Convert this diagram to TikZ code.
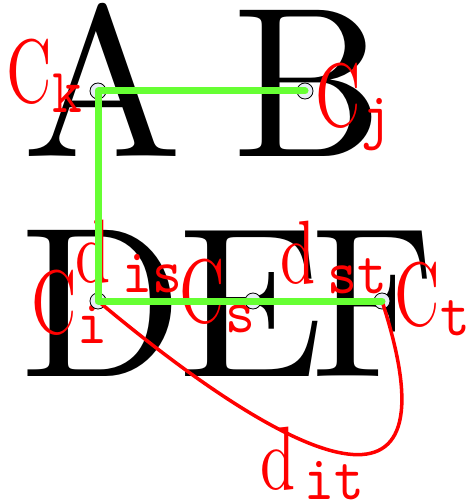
\documentclass[tikz,border=0pt]{standalone}
\usepackage{xcolor}
\usepackage{graphicx}
\usepackage{tikz}
\usetikzlibrary{
  arrows.meta,
  positioning
}
\definecolor{pathgreen}{RGB}{102,255,51}
\definecolor{dotfill}{RGB}{232,237,246}
\newcommand{\hugeletter}[2][21.4]{\scalebox{#1}[21.4]{\fontsize{10}{12}\selectfont #2}}
\newcommand{\subtt}[1]{\raisebox{-1.1pt}{\scalebox{0.63}[0.7]{\ttfamily #1}}}
\newcommand{\tagtext}[2]{\scalebox{9}{\fontsize{10}{12}\selectfont\scalebox{0.7}[1]{#1}\subtt{#2}}}
\tikzset{
  bigletter/.style={
    inner sep=0pt,
    anchor=base west
  },
  site/.style={
    circle,
    draw=black,
    fill=dotfill,
    line width=0.8pt,
    minimum size=16pt,
    inner sep=0pt
  },
  tag/.style={
    inner sep=0pt,
    anchor=north west,
    text=red
  },
  route/.style={
    line width=7pt,
    draw=pathgreen,
    line cap=round,
    line join=round
  },
  hop/.style={
    line width=3.5pt,
    draw=red
  }
}

\begin{document}
\begin{tikzpicture}[x=1pt,y=-1pt]
\useasboundingbox (0,0) rectangle (469,500);

% big letters
\node[bigletter] (la) at (22,156) {\hugeletter{A}};
\node[bigletter] (lb) at (232,156) {\hugeletter{B}};
\node[bigletter] (ld) at (20,376) {\hugeletter{D}};
\node[bigletter] (le) at (178,376) {\hugeletter{E}};
\node[bigletter] (lf) at (311,376) {\hugeletter[19]{F}};

% labels
\node[tag] (tk) at (6.5,39) {\tagtext{C}{k}};
\node[tag] (tj) at (315.5,63) {\tagtext{C}{j}};
\node[tag] (ti) at (31.5,270) {\tagtext{C}{i}};
\node[tag] (ts) at (179.5,259) {\tagtext{C}{s}};
\node[tag] (tt) at (394.5,262) {\tagtext{C}{t}};
\node[tag] (tis) at (75,220) {\tagtext{d\kern2pt}{is}};
\node[tag] (tst) at (280,221) {\tagtext{d\kern2pt}{st}};
\node[tag] (tit) at (260,427) {\tagtext{d\kern1.5pt}{it}};

% sites
\node[site] (ck) at (98,91) {};
\node[site] (cj) at (305,91) {};
\node[site] (ci) at (98,301) {};
\node[site] (cs) at (253,301) {};
\node[site] (ct) at (382,301) {};

% red hop
\draw[hop] (ci.center) to[out=-40,in=-72,looseness=2.3] (ct.center);

% green route
\draw[route] (cj.center) -- (ck.center) -- (ci.center) -- (cs.center) -- (ct.center);
\end{tikzpicture}
\end{document}
